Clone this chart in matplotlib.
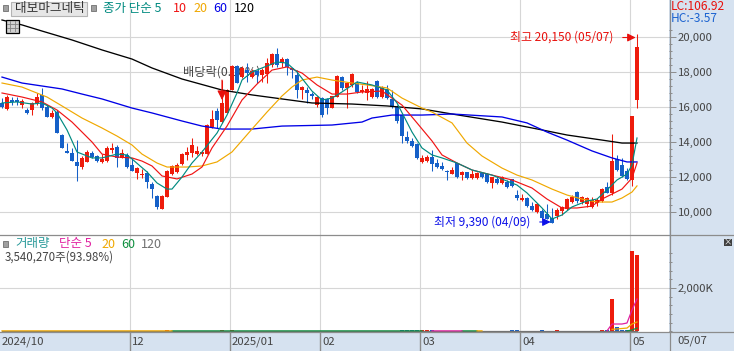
import numpy as np
import matplotlib
matplotlib.use('Agg')
import matplotlib.pyplot as plt
from matplotlib.lines import Line2D
from matplotlib.patches import Rectangle

plt.rcParams['font.family'] = ['Noto Sans CJK KR', 'DejaVu Sans']

#daily candles, one value per trading day
opens = [16230,15890,16400,16380,16110,15830,15830,16230,16690,16000,15430,15710,14400,13490,13370,12860,
         12570,12860,13370,13200,12860,12910,13540,13710,13090,13260,12690,12230,12110,12230,11600,10910,
         10170,10860,12170,12290,12740,13260,13370,13310,13310,13310,14860,15770,15140,15660,16970,18340,
         17710,18110,17710,18060,17830,17890,18400,19030,18510,18740,18230,17830,16970,16970,16740,16110,
         16510,16460,15940,16570,17710,17090,17260,17370,16860,16800,16570,17490,16570,17030,16460,16000,
         15540,14290,14060,13890,12860,12910,13140,12800,12630,12340,12170,12800,12110,12290,11940,11940,
         12230,12170,11660,11890,11660,11710,11890,10970,10690,10800,10340,10000,10060,9890,9660,9770,
         10060,10170,10570,11140,10570,10460,10290,10510,10630,11430,11090,13030,12690,12340,11830,16400]
highs = [16510,16690,16570,16570,16460,15940,16290,16800,17090,16110,15830,15830,14460,13940,13660,14110,
         13200,13540,13490,13260,13310,13770,13940,13830,13600,13370,13090,12570,12460,12340,11710,10970,
         10970,12400,12690,12800,13370,13710,14230,13770,13540,15030,15830,15940,17540,17030,18400,18400,
         18340,18510,18170,18110,18230,18800,19090,19370,18860,18800,18230,18110,17200,17140,16860,16630,
         16570,16510,16630,17830,17770,17430,17940,17490,17260,17490,17090,17540,17200,17260,16970,16110,
         15600,14630,14230,13940,13260,13260,13540,13030,12860,12400,12570,12800,12340,12290,12400,12290,
         12290,12230,12000,12000,12060,11830,11890,11260,11030,10860,10570,10510,10170,10460,10230,10230,
         10340,10800,10970,11200,10910,10860,10860,10800,11370,11710,14460,13260,13090,12510,15490,20150]
lows = [15940,15830,16110,16110,15940,15600,15540,16110,15830,15430,15370,14510,13660,13370,12910,11770,
        12460,12860,13090,12860,12800,12860,13370,12570,13090,12510,12340,11890,11940,11370,10800,10170,
        10170,10860,12110,12230,12690,12970,13140,13260,13200,13310,14800,14800,15090,15660,16970,17370,
        17660,17430,17660,17370,17430,17370,18290,18290,18290,17830,17660,16510,16460,16230,16460,16000,
        15430,15600,15940,16570,16970,15940,17140,16800,16800,16400,16510,16510,16510,16460,15940,15090,
        13940,13940,13710,13030,12800,12860,12340,12510,12400,11830,12170,11940,11830,11890,11890,11890,
        11940,11660,11370,11600,11600,11370,11430,10690,10630,10290,10060,9940,9600,9600,9390,9600,
        9830,10110,10510,10510,10460,10290,10230,10340,10570,11090,10970,12340,12000,11830,11490,15940]
closes = [16000,16570,16290,16270,16340,15660,16230,16570,15940,15430,15660,14510,13660,13370,12910,12630,
          13090,13430,13140,12910,13030,13660,13660,13090,13370,12570,12340,12510,12170,11710,11310,10290,
          10910,12340,12630,12690,13310,13430,13830,13490,13430,14970,15310,15260,16230,16970,18340,17370,
          18230,17940,18060,17830,18110,18510,19030,18400,18740,18290,18110,16970,17140,16800,16630,16570,
          15540,15940,16630,17770,17090,17370,17890,16860,16970,17030,17030,16570,17090,16510,16000,15200,
          14340,14060,13770,13090,13090,13140,12740,12570,12460,12290,12400,12000,12290,11940,12170,12230,
          12000,11710,12000,11660,12000,11430,11490,10800,10800,10340,10110,10460,9660,9600,9400,10110,
          10290,10740,10860,10630,10860,10800,10690,10690,11310,11090,12910,12400,12060,11890,15490,19430]
#volume in thousands of shares
volumes = [22,18,20,16,18,20,17,24,26,20,18,28,30,24,26,30,
           24,22,18,16,18,22,16,20,16,20,18,18,14,18,20,26,
           30,44,28,26,24,20,26,18,16,34,30,28,44,36,62,30,
           26,20,18,18,20,24,28,26,18,20,18,24,16,16,14,16,
           22,18,18,30,24,22,26,20,14,16,16,24,16,18,20,24,
           70,46,52,46,44,40,46,32,30,24,22,30,18,22,18,20,
           18,20,18,16,18,18,68,64,24,26,30,32,62,34,36,62,
           34,36,30,24,20,18,18,16,44,40,1490,200,60,60,3700,3540]

ma5_idx = [0,3,6,8,10,11,13,15,18,20,23,25,26,29,31,33,34,36,38,40,43,45,47,48,50,52,55,57,59,62,64,66,68,71,
           74,77,79,82,84,86,88,91,94,98,103,105,108,110,112,114,117,119,121,123,125,126,127]
ma5 = [16230,16290,16170,16230,15940,15660,14690,13430,13090,13090,13310,13260,13030,12290,11660,11310,11310,
       12000,12800,13430,14510,15540,16800,17540,18000,18230,18570,18510,18000,16910,16400,16510,16860,17430,
       17260,16970,16230,14570,13660,13260,13090,12800,12400,12110,11540,11090,10230,9600,9830,10290,10630,
       10740,11260,11830,12170,12690,14230]
ma10_idx = [0,4,8,11,14,16,18,20,23,26,28,30,32,35,38,40,42,45,48,51,54,57,60,63,66,69,72,76,80,83,86,88,91,
            94,98,102,106,109,112,115,118,120,124,126,127]
ma10 = [16800,16570,16290,15830,15140,14570,14000,13310,13140,13090,12910,12630,12060,11890,12170,12570,13660,
        14910,16400,17310,18110,18290,17940,17260,16740,16740,16860,16910,16110,15090,14060,13260,12800,12400,
        12110,11830,11370,10740,10230,10230,10340,10740,11310,11940,12800]
ma20_idx = [0,4,6,9,12,16,20,23,26,28,31,33,37,40,43,46,50,53,56,58,60,63,66,70,73,77,80,84,86,90,93,96,100,
            103,106,110,113,116,119,122,124,126,127]
ma20 = [17370,17140,16910,16570,16060,15370,14800,14340,13830,13310,12800,12570,12570,12630,12860,13430,14740,
        15710,16630,17140,17540,17710,17540,17370,17260,17090,16510,15940,15710,15090,13940,13200,12510,12110,
        11830,11310,10970,10740,10570,10570,10800,11140,11490]
ma60_idx = [0,4,8,12,16,20,26,30,36,40,44,50,56,66,72,74,78,84,90,100,105,109,113,118,122,125,127]
ma60 = [17710,17370,17200,17030,16740,16460,15940,15660,15200,14910,14740,14740,14910,14970,15140,15370,15540,
        15540,15600,15430,15090,14570,14110,13490,13090,12860,12860]
ma120_idx = [0,4,8,14,20,26,30,36,44,50,56,62,70,77,84,90,100,108,113,120,124,127]
ma120 = [20970,20690,20340,19830,19260,18740,18230,17600,16970,16690,16460,16230,16170,16060,15890,15600,15140,
         14690,14400,14110,13940,13940]

#volume averages, only the parts that show above the others at the base line
vol_ma5_idx = [86,92,np.nan,121,122,124,125,126,127]
vol_ma5 = [20,20,np.nan,20,337,337,383,984,1492]
vol_ma20_idx = [0,34,np.nan,95,96,np.nan,122,125,126,127]
vol_ma20 = [20,20,np.nan,20,20,np.nan,90,150,337,430]
vol_ma60_idx = [34,84,np.nan,92,95,np.nan,125,126,127]
vol_ma60 = [20,20,np.nan,20,20,np.nan,20,60,150]
vol_ma120_idx = [0,127]
vol_ma120 = [20,20]

month_first = [0,26,46,64,84,104,126]
month_labels = ['2024/10','12','2025/01','02','03','04','05']
price_ticks = [10000,12000,14000,16000,18000,20000]
price_labels = ['10,000','12,000','14,000','16,000','18,000','20,000']

W = 734
H = 351
RED = '#ee1c0c'
BLUE = '#1560c8'
GRID = '#d6d6d6'
EDGE = '#8c8c8c'
PANEL = '#d6e2f0'
TXT = '#444444'
TEAL = '#008a80'
ORANGE = '#f0a800'

def px_axes(x0, y0, x1, y1):
    return fig.add_axes([x0/W, 1-y1/H, (x1-x0)/W, (y1-y0)/H])

def ptext(x, y, s, color=TXT, size=9, ha='left', **kw):
    fig.text(x/W, 1-y/H, s, color=color, fontsize=size, ha=ha, va='center', **kw)

fig = plt.figure(figsize=(W/100, H/100), dpi=100, facecolor=PANEL)
ax = px_axes(0, 0, 669, 235)
vx = px_axes(0, 235, 669, 332)
dx = px_axes(0, 332, 669, 351)

xs = np.arange(len(closes))
o = np.array(opens)
c = np.array(closes)
colors = [RED if c[i] >= o[i] else BLUE for i in xs]
grid_x = [m-0.4 for m in month_first[1:]]

for a in (ax, vx, dx):
    a.set_xlim(-0.4, 133.4)
    for s in a.spines.values():
        s.set_visible(False)
for a in (ax, vx):
    a.set_facecolor('white')
    a.set_xticks([])
    for g in grid_x:
        a.axvline(g, color=GRID, lw=0.8, zorder=0)
    a.yaxis.tick_right()

#price panel
ax.set_ylim(8686, 22114)
for p in price_ticks:
    ax.axhline(p, color=GRID, lw=0.8, zorder=0)
ax.set_yticks(price_ticks, price_labels)
ax.set_yticks([v for v in range(10000, 20800, 400) if v % 2000], minor=True)
ax.tick_params(axis='y', which='major', length=5, width=0.7, color=EDGE, labelcolor=TXT, labelsize=8.2, pad=1.5)
ax.tick_params(axis='y', which='minor', length=2.5, width=0.7, color=EDGE)

ax.text(44, 18000, '배당락(0.00%)', color=TXT, fontsize=8.8, ha='center', va='center', zorder=1)
ax.vlines(xs, lows, highs, colors=colors, lw=0.75, zorder=3)
ax.bar(xs, c-o, bottom=o, width=0.62, color=colors, lw=0, zorder=3)

ax.plot(ma120_idx, ma120, color='black', lw=0.95, zorder=4)
ax.plot(ma60_idx, ma60, color='#0000e6', lw=0.95, zorder=4)
ax.plot(ma20_idx, ma20, color=ORANGE, lw=0.85, zorder=4)
ax.plot(ma10_idx, ma10, color='#f01414', lw=0.85, zorder=4)
ax.plot(ma5_idx, ma5, color=TEAL, lw=0.85, zorder=4)

ax.annotate('최고 20,150 (05/07)', xy=(127, 19970), xytext=(-24, 0), textcoords='offset pixels',
            color='#e8100c', fontsize=8.6, ha='right', va='center', zorder=6,
            arrowprops=dict(arrowstyle='-|>', color='#e8100c', lw=0.8, mutation_scale=12, shrinkA=5, shrinkB=1))
ax.annotate('최저 9,390 (04/09)', xy=(110, 9430), xytext=(-22, 0), textcoords='offset pixels',
            color='#0c10e8', fontsize=8.6, ha='right', va='center', zorder=6,
            arrowprops=dict(arrowstyle='-|>', color='#0c10e8', lw=0.8, mutation_scale=12, shrinkA=5, shrinkB=1))
ax.annotate('', xy=(44, 16400), xytext=(44, 17540), zorder=6,
            arrowprops=dict(arrowstyle='-|>', color='#e8100c', lw=0.8, mutation_scale=14, shrinkA=0, shrinkB=0))

#volume panel
vx.set_ylim(-32, 4448)
vx.axhline(2000, color=GRID, lw=0.8, zorder=0)
vx.set_yticks([2000], ['2,000K'])
vx.set_yticks([v for v in range(0, 3800, 400) if v != 2000], minor=True)
vx.tick_params(axis='y', which='major', length=5, width=0.7, color=EDGE, labelcolor=TXT, labelsize=8.2, pad=1.5)
vx.tick_params(axis='y', which='minor', length=2.5, width=0.7, color=EDGE)
vx.bar(xs, volumes, width=0.62, color=colors, lw=0, zorder=3)
vx.plot(vol_ma120_idx, vol_ma120, color='#707070', lw=0.9, zorder=4)
vx.plot(vol_ma60_idx, vol_ma60, color='#109040', lw=0.9, zorder=4)
vx.plot(vol_ma20_idx, vol_ma20, color=ORANGE, lw=0.9, zorder=4)
vx.plot(vol_ma5_idx, vol_ma5, color='#e020a0', lw=0.9, zorder=4)

#date strip
dx.patch.set_alpha(0)
dx.set_ylim(0, 1)
dx.set_yticks([])
dx.set_xticks(grid_x, [])
dx.tick_params(axis='x', direction='in', length=14, width=1, color=EDGE, top=False)
for g, m in zip([-0.4]+grid_x, month_labels):
    dx.annotate(m, xy=(g, 0.47), xytext=(2, 0), textcoords='offset pixels', color=TXT, fontsize=8.2, va='center')
ptext(677, 341, '05/07', size=8.2)

#frame lines across the whole width
for y in (235, 332):
    fig.add_artist(Line2D([0, 1], [1-y/H, 1-y/H], color=EDGE, lw=0.9))
fig.add_artist(Line2D([669.5/W, 669.5/W], [0, 1], color=EDGE, lw=0.9))

#header of the price panel
for x, y in ((5, 8), (93, 8), (5, 244)):
    fig.add_artist(Rectangle(((x-2.5)/W, 1-(y+3)/H), 5/W, 6/H, fc='#a0a0a0', ec='#707070', lw=0.6))
fig.add_artist(Rectangle((11/W, 1-15.5/H), 76/W, 13.5/H, fc='#e6e6e6', ec='#b4b4b4', lw=0.8))
ptext(15, 8.5, '대보마그네틱', color='#333333', size=9.1)
ptext(103, 8.5, '종가 단순 5', color=TEAL)
ptext(173, 8.5, '10', color='#f01414')
ptext(193, 8.5, '20', color=ORANGE)
ptext(213, 8.5, '60', color='#0000e6')
ptext(234, 8.5, '120', color='black')
ptext(671, 7, 'LC:106.92', color='#e8100c', size=8.6)
ptext(671, 19, 'HC:-3.57', color='#1a62d0', size=8.6)

#table icon
fig.add_artist(Rectangle((6/W, 1-32.5/H), 13/W, 13/H, fc='#d0d0d0', ec='black', lw=0.9))
for x in (10, 14.5):
    fig.add_artist(Line2D([x/W, x/W], [1-31/H, 1-21/H], color='#808080', lw=0.6))
for y in (24, 28):
    fig.add_artist(Line2D([7/W, 18/W], [1-y/H, 1-y/H], color='#808080', lw=0.6))

#header of the volume panel
ptext(15, 244, '거래량', color='#2a9a9a')
ptext(59, 244, '단순 5', color='#e020a0')
ptext(101, 244, '20', color=ORANGE)
ptext(121, 244, '60', color='#109040')
ptext(141, 244, '120', color='#707070')
ptext(5, 257, '3,540,270주(93.98%)', size=8.3)

#small button on the right
fig.add_artist(Rectangle((724/W, 1-246/H), 8/W, 7/H, fc='#404040', ec='none'))
ptext(728, 242, '×', color='white', size=6, ha='center')

plt.savefig('out.png', dpi=100, facecolor=fig.get_facecolor())
